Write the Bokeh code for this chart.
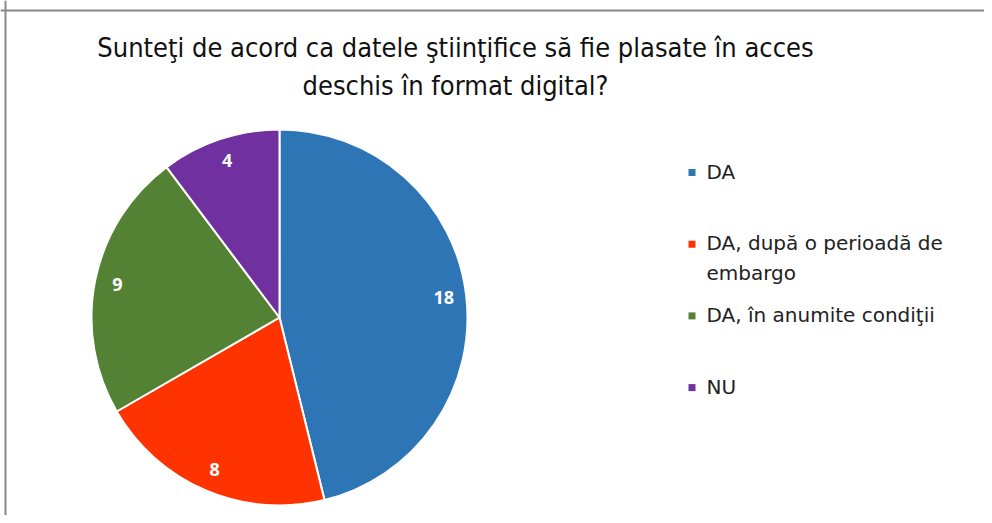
import numpy as np
from bokeh.plotting import figure
from bokeh.models import ColumnDataSource, Label, Span, Range1d
from bokeh.core.properties import value
from bokeh.embed import file_html
from bokeh.resources import INLINE

categories = ["DA", "DA, după o perioadă de embargo", "DA, în anumite condiţii", "NU"]
legend_labels = ["DA", "DA, după o perioadă de\nembargo", "DA, în anumite condiţii", "NU"]
counts = [18, 8, 9, 4]
colors = ["#2E75B6", "#FF3300", "#548235", "#7030A0"]
title_text = "Sunteţi de acord ca datele ştiinţifice să fie plasate în acces\ndeschis în format digital?"

W, H = 984, 515
p = figure(width=W, height=H, x_range=Range1d(0, W), y_range=Range1d(0, H),
           output_backend="svg", toolbar_location=None, min_border=0)
p.axis.visible = False
p.grid.visible = False
p.outline_line_color = None
p.background_fill_color = "white"

total = sum(counts)
frac = np.array(counts) / total
cum = np.concatenate([[0], np.cumsum(frac)])
start = np.pi / 2 - 2 * np.pi * cum[:-1]
end = np.pi / 2 - 2 * np.pi * cum[1:]
mid = (start + end) / 2
cx, cy, R = 279, 198, 188
src = ColumnDataSource(dict(cat=categories, count=counts, color=colors,
                            start=start, end=end,
                            lx=cx + 0.88 * R * np.cos(mid), ly=cy + 0.88 * R * np.sin(mid),
                            lab=[str(c) for c in counts]))
p.wedge(x=cx, y=cy, radius=R, start_angle='start', end_angle='end', direction='clock',
        fill_color='color', line_color='white', line_width=2, source=src)
p.text(x='lx', y='ly', text='lab', source=src, text_color="white", text_font=value("Open Sans"),
       text_font_style="bold", text_font_size="18px", text_align="center", text_baseline="middle")

n = len(categories)
ly0, step = 343, 71.7
ys = [ly0 - i * step for i in range(n)]
leg = ColumnDataSource(dict(x=[691.5] * n, y=ys, ty=[y + 13 for y in ys], tx=[706] * n,
                            label=legend_labels, color=colors))
p.rect(x='x', y='y', width=7, height=7, fill_color='color', line_color=None, source=leg)
p.text(x='tx', y='ty', text='label', source=leg, text_color="#222222", text_font=value("DejaVu Sans"),
       text_font_size="20px", text_align="left", text_baseline="top", text_line_height=1.23)

p.add_layout(Label(x=455, y=449, text=title_text, text_align="center", text_baseline="middle",
                   text_font="DejaVu Sans Condensed", text_font_size="27px", text_color="#111111",
                   text_line_height=1.2))

p.add_layout(Span(location=505, dimension="width", line_color="#888888", line_width=2))
p.add_layout(Span(location=5, dimension="height", line_color="#888888", line_width=2))

open("out.html", "w").write(file_html(p, INLINE))
